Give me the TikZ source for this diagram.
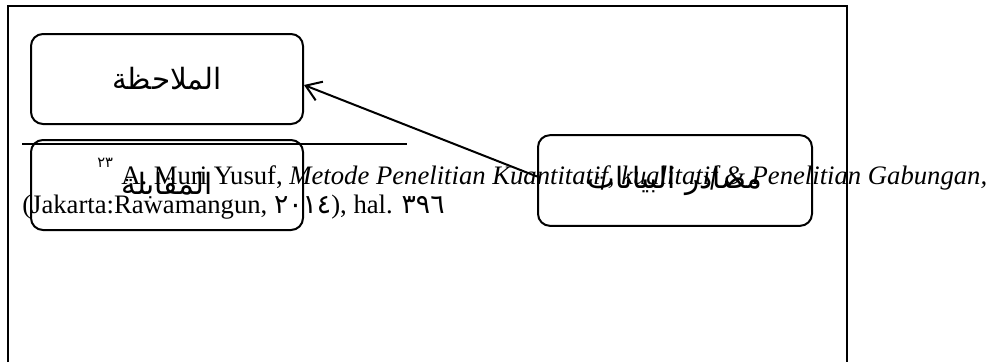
\documentclass[tikz,border=0pt]{standalone}
\usepackage{fontspec}
\setmainfont{Liberation Serif}
\newfontfamily\arabicfont[Script=Arabic]{DejaVu Sans}
\TeXXeTstate=1
\usetikzlibrary{arrows.meta}
\begin{document}
\begin{tikzpicture}[x=0.75pt,y=-0.75pt,
    box/.style={draw,line width=1.5pt,rounded corners=9pt,
      minimum width=204pt,minimum height=67.5pt,
      font=\fontsize{22}{26}\arabicfont},
    fnline/.style={anchor=base west,inner sep=0pt,
      font=\fontsize{20}{24}\selectfont}]
  \useasboundingbox (0,0) rectangle (990,362);
  % page frame
  \draw[line width=1.5pt] (8,362) -- (8,6) -- (847,6) -- (847,362);
  % boxes
  \node[box] (mulahaza) at (167,79) {\beginR الملاحظة\endR};
  \node[box] (muqabala) at (167,185) {\beginR المقابلة\endR};
  \node[box,minimum width=205.5pt,minimum height=68pt] (masadir) at (675,180.5)
    {\beginR مصادر البيانات\endR};
  \draw[-{Straight Barb[length=11pt,width=15pt]},line width=1.5pt]
    ([yshift=3pt]masadir.west) to ([yshift=-4.5pt]mulahaza.east);
  % footnote
  \draw[line width=1pt] (22,144) -- (407,144);
  \node[fnline,font=\fontsize{11}{13}\arabicfont] (fnmark) at (97,167) {٢٣};
  \node[fnline] (fnone) at (121,184)
    {A. Muri Yusuf, \textit{Metode Penelitian Kuantitatif, kualitatif \& Penelitian Gabungan,}};
  \node[fnline] (fntwo) at (22,213)
    {(Jakarta:Rawamangun, {\arabicfont ٢٠١٤}), hal. {\arabicfont ٣٩٦}};
\end{tikzpicture}
\end{document}
